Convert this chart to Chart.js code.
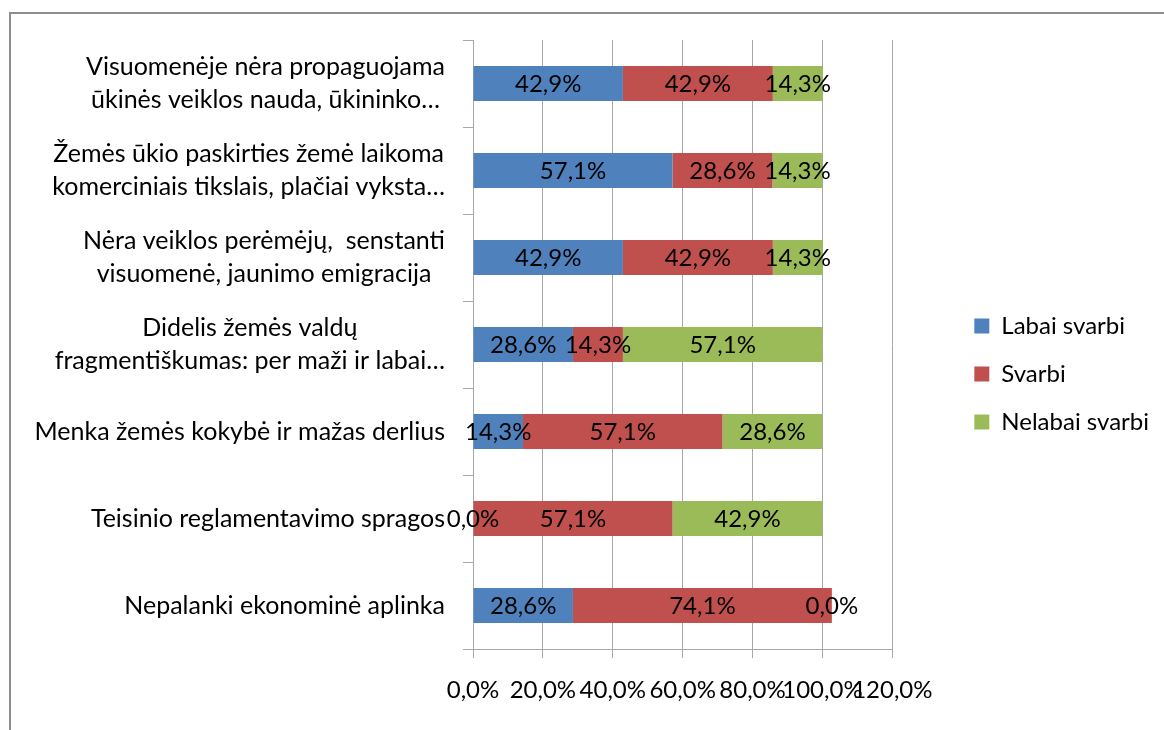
<!DOCTYPE html>
<html>
<head>
<meta charset="utf-8">
<script src="https://cdn.jsdelivr.net/npm/chart.js"></script>
<style>
  body { margin: 0; background: #fff; overflow: hidden; }
  #frame { position: absolute; left: 9px; top: 12px; width: 1200px; height: 800px;
           border-top: 2px solid #8e8e8e; border-left: 2px solid #8e8e8e; }
  #wrap { position: absolute; left: 0; top: 0; width: 1164px; height: 730px; }
</style>
</head>
<body>
<div id="frame"></div>
<div id="wrap"><canvas id="myChart" width="1164" height="730"></canvas></div>
<script>
const categories = [
  ["Visuomenėje nėra propaguojama", "ūkinės veiklos nauda, ūkininko…"],
  ["Žemės ūkio paskirties žemė laikoma", "komerciniais tikslais, plačiai vyksta…"],
  ["Nėra veiklos perėmėjų,  senstanti", "visuomenė, jaunimo emigracija"],
  ["Didelis žemės valdų", "fragmentiškumas: per maži ir labai…"],
  ["Menka žemės kokybė ir mažas derlius"],
  ["Teisinio reglamentavimo spragos"],
  ["Nepalanki ekonominė aplinka"],
];
const seriesNames = ["Labai svarbi", "Svarbi", "Nelabai svarbi"];
const labaiSvarbi = [42.9, 57.1, 42.9, 28.6, 14.3, 0.0, 28.6];
const svarbi = [42.9, 28.6, 42.9, 14.3, 57.1, 57.1, 74.1];
const nelabaiSvarbi = [14.3, 14.3, 14.3, 57.1, 28.6, 42.9, 0.0];
const xMin = 0;
const xMax = 120;
const xStep = 20;

const fontName = "Lato";
const fontSize = 24;
const catFontSize = 25;
const lineHeight = 33;
const gridColor = "#a8a8a8";

const pct = (v) => v.toFixed(1).replace(".", ",") + "%";

// numbers in the middle of every segment
const valueLabels = {
  id: "valueLabels",
  afterDatasetsDraw(chart) {
    const ctx = chart.ctx;
    ctx.save();
    ctx.font = `${fontSize}px ${fontName}`;
    ctx.fillStyle = "#000";
    ctx.textAlign = "center";
    ctx.textBaseline = "middle";
    chart.data.datasets.forEach((ds, i) => {
      chart.getDatasetMeta(i).data.forEach((bar, j) => {
        ctx.fillText(pct(ds.data[j]), (bar.x + bar.base) / 2, bar.y + 1);
      });
    });
    ctx.restore();
  },
};

// category names: block right aligned, lines centred on each other
const categoryLabels = {
  id: "categoryLabels",
  afterDraw(chart) {
    const scale = chart.scales.y;
    const ctx = chart.ctx;
    ctx.save();
    ctx.font = `${catFontSize}px ${fontName}`;
    ctx.fillStyle = "#000";
    ctx.textAlign = "center";
    ctx.textBaseline = "middle";
    categories.forEach((lines, i) => {
      const w = Math.max(...lines.map((l) => ctx.measureText(l).width));
      const cx = scale.right - 28 - w / 2;
      const y0 = scale.getPixelForTick(i) - ((lines.length - 1) * lineHeight) / 2;
      lines.forEach((l, k) => ctx.fillText(l, cx, y0 + k * lineHeight));
    });
    ctx.restore();
  },
};

// push the legend a bit away from the plot
const legendGap = {
  id: "legendGap",
  afterLayout(chart) {
    chart.legend.left += 58;
    chart.legend.right += 58;
  },
};

const ctx = document.getElementById("myChart");
const chart = new Chart(ctx, {
  type: "bar",
  data: {
    labels: categories,
    datasets: [
      { label: seriesNames[0], data: labaiSvarbi, backgroundColor: "#4f81bd" },
      { label: seriesNames[1], data: svarbi, backgroundColor: "#c0504d" },
      { label: seriesNames[2], data: nelabaiSvarbi, backgroundColor: "#9bbb59" },
    ],
  },
  options: {
    indexAxis: "y",
    responsive: false,
    animation: false,
    categoryPercentage: 0.8,
    barPercentage: 0.5,
    borderWidth: 0,
    layout: { padding: { top: 40, bottom: 22, right: 63, left: 0 } },
    scales: {
      x: {
        stacked: true,
        min: xMin,
        max: xMax,
        ticks: {
          stepSize: xStep,
          autoSkip: false,
          callback: (v) => pct(v),
          color: "#000",
          padding: 18,
          maxRotation: 0,
          font: { family: fontName, size: fontSize },
        },
        grid: { color: gridColor, tickLength: 9 },
        border: { color: gridColor },
        afterFit: (s) => {
          s.height = 59;
        },
      },
      y: {
        stacked: true,
        ticks: { color: "rgba(0,0,0,0)", font: { family: fontName, size: fontSize } },
        grid: { drawOnChartArea: false, color: gridColor, tickLength: 10 },
        border: { color: gridColor },
        afterFit: (s) => {
          s.width = 473;
        },
      },
    },
    plugins: {
      legend: {
        position: "right",
        align: "center",
        labels: {
          boxWidth: 15,
          boxHeight: 15,
          padding: 24,
          color: "#000",
          font: { family: fontName, size: fontSize },
        },
      },
      tooltip: { enabled: false },
    },
  },
  plugins: [valueLabels, categoryLabels, legendGap],
});
</script>
</body>
</html>
